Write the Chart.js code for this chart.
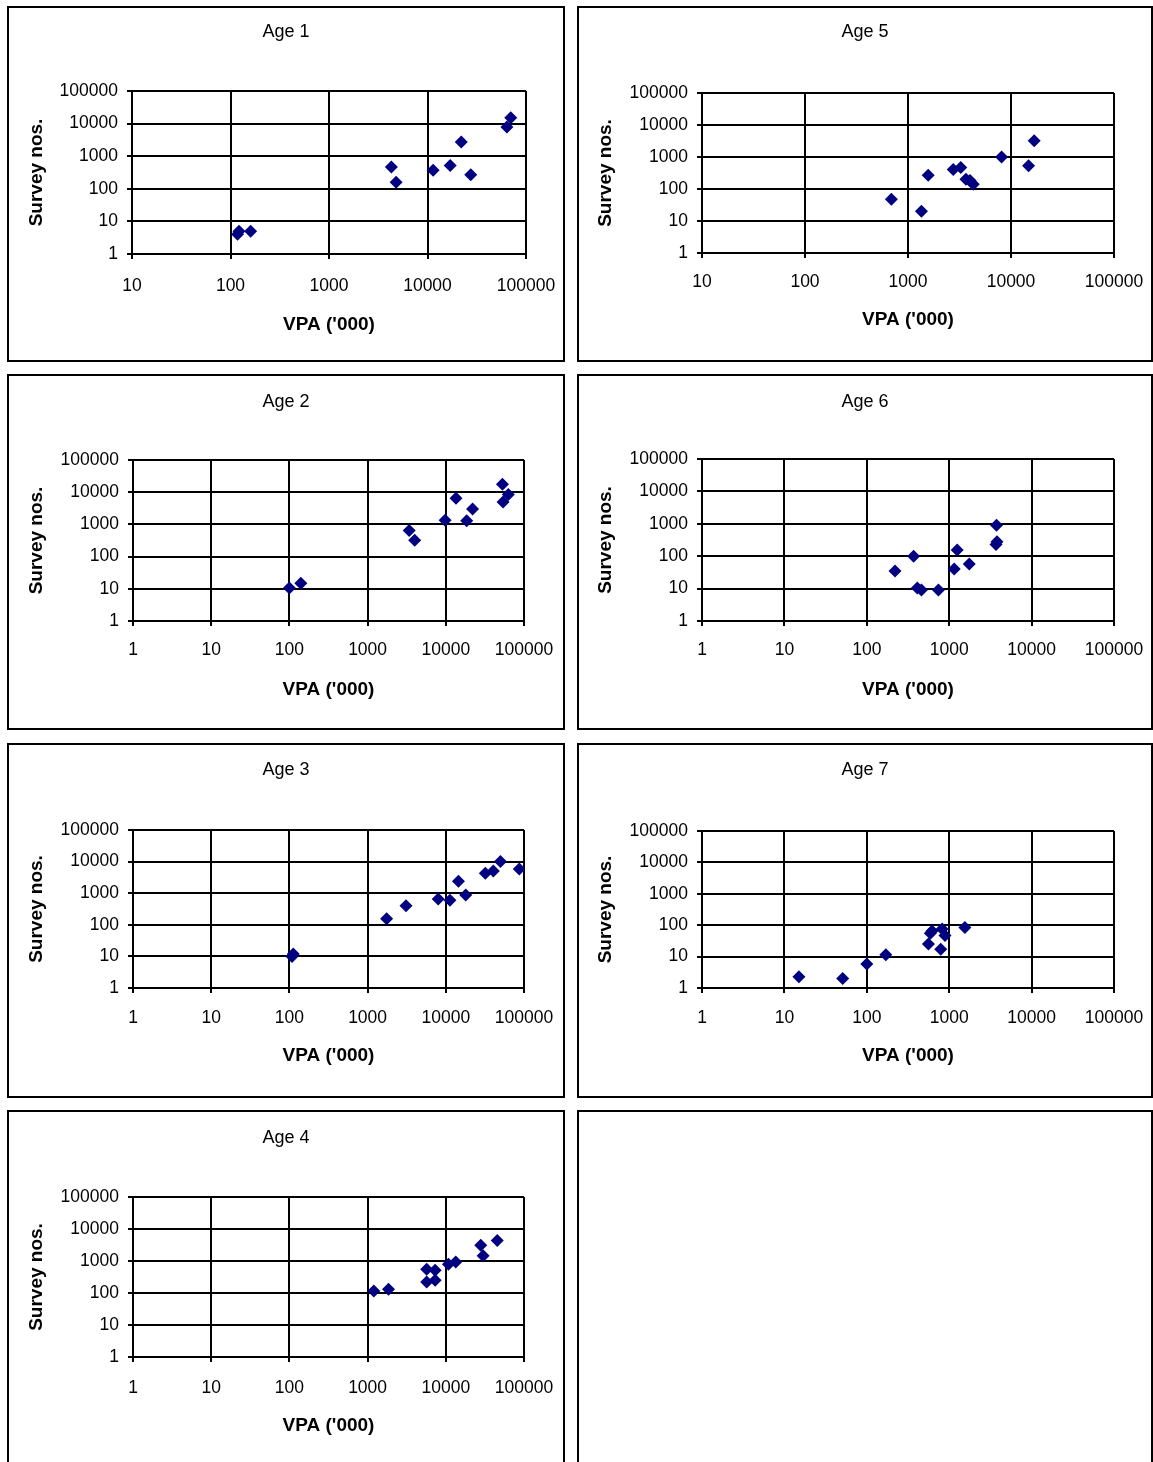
<!DOCTYPE html>
<html>
<head>
<meta charset="utf-8">
<script src="https://cdn.jsdelivr.net/npm/chart.js@4.4.0/dist/chart.umd.min.js"></script>
<style>
	body { margin: 0; background: #fff; width: 1153px; height: 1462px; overflow: hidden; position: relative; }
	.panel { position: absolute; border: 2px solid #000; box-sizing: border-box; background: #fff; }
	.panel canvas { display: block; }
</style>
</head>
<body>
<script>
// **DATOS**
const decades = [1, 10, 100, 1000, 10000, 100000];
const tickLabels = ['1', '10', '100', '1000', '10000', '100000'];

const age1Vpa = [118, 122, 160, 4300, 4800, 11400, 17000, 22000, 27500, 64000, 70000];
const age1Survey = [4, 5, 5, 470, 160, 370, 520, 2750, 270, 7800, 15000];

const age2Vpa = [100, 140, 3400, 4000, 9800, 13500, 18500, 22000, 53000, 54000, 63000];
const age2Survey = [10.5, 15, 650, 320, 1350, 6500, 1300, 3000, 17500, 5000, 8500];

const age3Vpa = [108, 112, 1750, 3100, 8000, 11300, 14500, 18000, 32000, 40500, 50000, 87000];
const age3Survey = [10, 12, 155, 400, 650, 600, 2400, 870, 4300, 5000, 10000, 5800];

const age4Vpa = [1200, 1850, 5700, 7300, 5700, 7300, 10800, 13400, 28000, 30000, 45500];
const age4Survey = [115, 130, 550, 510, 220, 250, 790, 930, 3100, 1450, 4400];

const age5Vpa = [690, 1350, 1570, 2750, 3250, 3650, 4000, 4300, 8100, 14800, 16800];
const age5Survey = [48, 20, 270, 410, 470, 200, 185, 140, 1000, 530, 3200];

const age6Vpa = [220, 370, 410, 460, 740, 1150, 1250, 1750, 3750, 3700, 3800];
const age6Survey = [35, 100, 10.5, 9, 9, 40, 155, 57, 900, 230, 280];

const age7Vpa = [15, 51, 100, 170, 560, 590, 620, 820, 890, 790, 1550];
const age7Survey = [2.3, 2, 5.8, 11.5, 25, 55, 65, 75, 47, 17, 85];

const xTitle = "VPA ('000)";
const yTitle = 'Survey nos.';

// **DISEÑO** (caja del panel y área del gráfico en píxeles de página)
const FONT = "'Liberation Sans', Arial, sans-serif";
const panels = [
	{ title: 'Age 1', vpa: age1Vpa, survey: age1Survey, xMin: 10, box: [7, 6, 558, 356], plot: [132, 91, 526, 254], titleY: 32, xTickY: 286, xTitleY: 325, yTitleX: 37 },
	{ title: 'Age 5', vpa: age5Vpa, survey: age5Survey, xMin: 10, box: [577, 6, 576, 356], plot: [702, 93, 1114, 253], titleY: 32, xTickY: 282, xTitleY: 320, yTitleX: 606 },
	{ title: 'Age 2', vpa: age2Vpa, survey: age2Survey, xMin: 1, box: [7, 374, 558, 356], plot: [133, 460, 524, 621], titleY: 402, xTickY: 650, xTitleY: 690, yTitleX: 37 },
	{ title: 'Age 6', vpa: age6Vpa, survey: age6Survey, xMin: 1, box: [577, 374, 576, 356], plot: [702, 459, 1114, 621], titleY: 402, xTickY: 650, xTitleY: 690, yTitleX: 606 },
	{ title: 'Age 3', vpa: age3Vpa, survey: age3Survey, xMin: 1, box: [7, 743, 558, 355], plot: [133, 830, 524, 988], titleY: 770, xTickY: 1018, xTitleY: 1056, yTitleX: 37 },
	{ title: 'Age 7', vpa: age7Vpa, survey: age7Survey, xMin: 1, box: [577, 743, 576, 355], plot: [702, 831, 1114, 988], titleY: 770, xTickY: 1018, xTitleY: 1056, yTitleX: 606 },
	{ title: 'Age 4', vpa: age4Vpa, survey: age4Survey, xMin: 1, box: [7, 1110, 558, 362], plot: [133, 1197, 524, 1357], titleY: 1138, xTickY: 1388, xTitleY: 1426, yTitleX: 37 },
	{ title: null, box: [577, 1110, 576, 362] },
];

const TITLE_SIZE = 18, TICK_SIZE = 17.5, AXIS_SIZE = 19, LH = 1.2;

/**
 * Etiqueta de una potencia de diez.
 */
function labelFor(value) {
	const i = decades.indexOf(value);
	return i >= 0 ? tickLabels[i] : '';
}

/**
 * Crea un panel con borde y, si tiene título, su gráfico de dispersión log-log.
 */
function buildPanel(p) {
	const [bx, by, bw, bh] = p.box;
	const div = document.createElement('div');
	div.className = 'panel';
	Object.assign(div.style, { left: bx + 'px', top: by + 'px', width: bw + 'px', height: bh + 'px' });
	document.body.appendChild(div);
	if (!p.title) return;

	const cx = bx + 2, cy = by + 2, cw = bw - 4, ch = bh - 4;
	const canvas = document.createElement('canvas');
	canvas.width = cw; canvas.height = ch;
	canvas.style.width = cw + 'px'; canvas.style.height = ch + 'px';
	div.appendChild(canvas);

	const [pl, pt, pr, pb] = p.plot;
	const titleLh = TITLE_SIZE * LH, axisLh = AXIS_SIZE * LH, tickLh = TICK_SIZE * LH;
	const titlePadTop = p.titleY - cy - titleLh / 2;
	const titlePadBottom = pt - cy - titlePadTop - titleLh;

	const grid = { color: '#000', lineWidth: 2, tickLength: 5, drawTicks: true, tickColor: '#000', tickWidth: 2 };
	const border = { display: true, color: '#000', width: 2 };
	const tickFont = { family: FONT, size: TICK_SIZE };
	const axisFont = { family: FONT, size: AXIS_SIZE, weight: 'bold' };

	new Chart(canvas, {
		type: 'scatter',
		data: {
			datasets: [{
				data: p.vpa.map((v, i) => ({ x: v, y: p.survey[i] })),
				pointStyle: 'rectRot',
				pointRadius: 6.5,
				backgroundColor: '#000080',
				borderColor: '#000080',
				borderWidth: 0,
			}],
		},
		options: {
			responsive: false,
			animation: false,
			devicePixelRatio: 1,
			layout: { padding: 0 },
			plugins: {
				legend: { display: false },
				tooltip: { enabled: false },
				title: {
					display: true,
					text: p.title,
					color: '#000',
					font: { family: FONT, size: TITLE_SIZE, weight: 'normal', lineHeight: LH },
					padding: { top: titlePadTop, bottom: titlePadBottom },
				},
			},
			scales: {
				x: {
					type: 'logarithmic',
					min: p.xMin,
					max: 100000,
					afterBuildTicks: s => { s.ticks = decades.filter(v => v >= p.xMin).map(v => ({ value: v })); },
					afterFit: s => {
						s.height = cy + ch - pb;
						s.paddingLeft = 0;
						s.paddingRight = cx + cw - pr; // hueco a la derecha del área
					},
					grid, border,
					ticks: {
						color: '#000', font: tickFont, autoSkip: false, maxRotation: 0,
						padding: p.xTickY - pb - 5 - tickLh / 2,
						callback: v => labelFor(v),
					},
					title: {
						display: true, text: xTitle, color: '#000', font: axisFont,
						padding: { top: 0, bottom: cy + ch - p.xTitleY - axisLh / 2 },
					},
				},
				y: {
					type: 'logarithmic',
					min: 1,
					max: 100000,
					afterBuildTicks: s => { s.ticks = decades.map(v => ({ value: v })); },
					afterFit: s => {
						s.width = pl - cx;
						s.paddingTop = 0;
						s.paddingBottom = 0;
					},
					grid, border,
					ticks: {
						color: '#000', font: tickFont, autoSkip: false, padding: 9,
						callback: v => labelFor(v),
					},
					title: {
						display: true, text: yTitle, color: '#000', font: axisFont,
						padding: { top: p.yTitleX - cx - axisLh / 2, bottom: 0 },
					},
				},
			},
		},
	});
}

panels.forEach(buildPanel);
</script>
</body>
</html>
